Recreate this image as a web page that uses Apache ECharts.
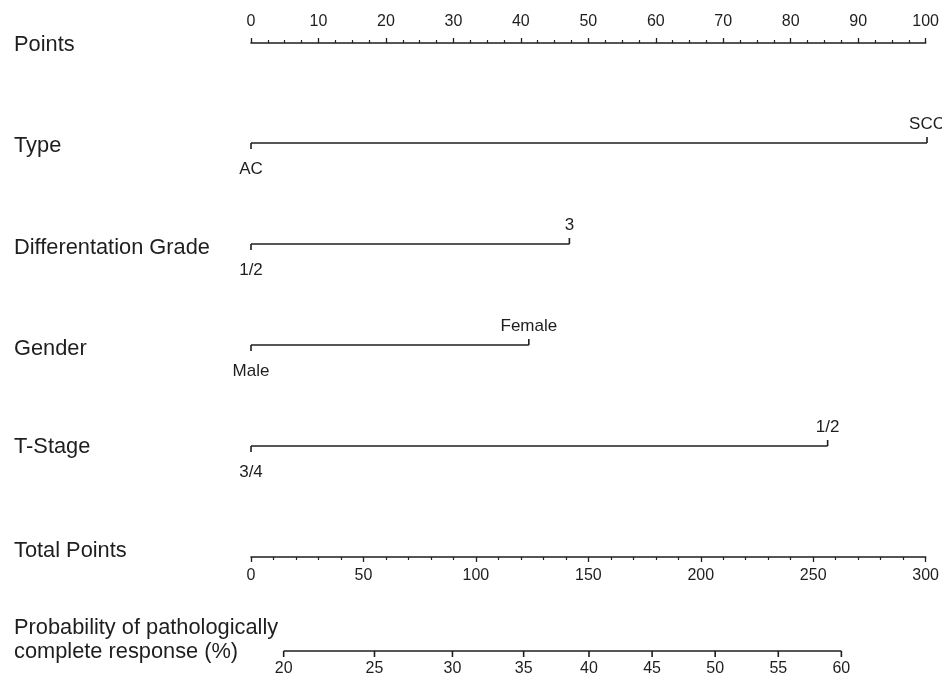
<!DOCTYPE html>
<html>
<head>
<meta charset="utf-8">
<script src="https://cdn.jsdelivr.net/npm/echarts@6/dist/echarts.min.js"></script>
<style>
  html, body { margin: 0; padding: 0; background: #fff; }
  #main { width: 942px; height: 679px; }
</style>
</head>
<body>
<div id="main"></div>
<script>
// nomogram values
var rowNames = ['Type', 'Differentation Grade', 'Gender', 'T-Stage'];
var lowLabels = ['AC', '1/2', 'Male', '3/4'];
var highLabels = ['SCC', '3', 'Female', '1/2'];
var highPoints = [100, 47.1, 41.1, 85.3];

var pointsMax = 100;
var totalMax = 300;

// probability ticks and where they sit on the total points scale
var probLabels = [20, 25, 30, 35, 40, 45, 50, 55, 60];
var probPoints = [14.5, 54.8, 89.4, 121, 150, 178, 206, 234, 262];

var rowTops = [143, 244, 345, 446];   // line position of each row (layout)
var ink = '#1e1e1e';
var font = '"Liberation Sans", Arial, sans-serif';

var chart = echarts.init(document.getElementById('main'));

var grids = [];
var xAxes = [];
var yAxes = [];
var series = [];

var axisBase = {
  axisLine: { onZero: false, lineStyle: { color: ink, width: 1.6 } },
  axisTick: { length: 5, lineStyle: { color: ink, width: 1.3 } },
  minorTick: { show: true, length: 3, lineStyle: { color: ink, width: 1.2 } },
  axisLabel: { color: ink, fontSize: 16, fontFamily: font, margin: 11 },
  splitLine: { show: false }
};

// Points axis (top)
grids.push({ left: 251, right: 15, top: 43, height: 20 });
xAxes.push(Object.assign({}, axisBase, {
  type: 'value', gridIndex: 0, position: 'top', min: 0, max: pointsMax, interval: 10,
  axisLabel: Object.assign({}, axisBase.axisLabel, { margin: 13 }),
  minorTick: Object.assign({}, axisBase.minorTick, { splitNumber: 4 })
}));
yAxes.push({ type: 'value', gridIndex: 0, show: false, min: -1, max: 1 });

// variable rows
function renderRow(i) {
  return function (params, api) {
    var lo = api.coord([0, 0]);
    var hi = api.coord([api.value(1), 0]);
    var st = { stroke: ink, lineWidth: 1.6 };
    var tf = { fill: ink, font: '17px ' + font, align: 'center', verticalAlign: 'middle' };
    return {
      type: 'group',
      children: [
        { type: 'line', shape: { x1: lo[0], y1: lo[1], x2: hi[0], y2: hi[1] }, style: st },
        { type: 'line', shape: { x1: lo[0], y1: lo[1], x2: lo[0], y2: lo[1] + 6 }, style: st },
        { type: 'line', shape: { x1: hi[0], y1: hi[1], x2: hi[0], y2: hi[1] - 6 }, style: st },
        { type: 'text', style: Object.assign({ text: lowLabels[i], x: lo[0], y: lo[1] + 26 }, tf) },
        { type: 'text', style: Object.assign({ text: highLabels[i], x: hi[0], y: hi[1] - 19 }, tf) }
      ]
    };
  };
}

rowNames.forEach(function (name, i) {
  var g = grids.length;
  grids.push({ left: 251, right: 15, top: rowTops[i] - 10, height: 20 });
  xAxes.push({ type: 'value', gridIndex: g, show: false, min: 0, max: pointsMax });
  yAxes.push({ type: 'value', gridIndex: g, show: false, min: -1, max: 1 });
  series.push({
    type: 'custom', name: name, xAxisIndex: g, yAxisIndex: g,
    renderItem: renderRow(i), silent: true,
    data: [[0, highPoints[i]]]
  });
});

// Total points axis
var gt = grids.length;
grids.push({ left: 251, right: 15, top: 537, height: 20 });
xAxes.push(Object.assign({}, axisBase, {
  type: 'value', gridIndex: gt, position: 'bottom', min: 0, max: totalMax, interval: 50,
  minorTick: Object.assign({}, axisBase.minorTick, { splitNumber: 5 })
}));
yAxes.push({ type: 'value', gridIndex: gt, show: false, min: -1, max: 1 });

// Probability axis, placed on the total points scale
var gp = grids.length;
grids.push({ left: 251, right: 15, top: 641, height: 20 });
xAxes.push({ type: 'value', gridIndex: gp, show: false, min: 0, max: totalMax });
yAxes.push({ type: 'value', gridIndex: gp, show: false, min: -1, max: 1 });
series.push({
  type: 'custom', name: 'prob', xAxisIndex: gp, yAxisIndex: gp, silent: true,
  data: probPoints.map(function (p, i) { return [p, probLabels[i]]; }),
  renderItem: function (params, api) {
    var p = api.coord([api.value(0), 0]);
    var st = { stroke: ink, lineWidth: 1.6 };
    var kids = [
      { type: 'line', shape: { x1: p[0], y1: p[1], x2: p[0], y2: p[1] + 6 }, style: st },
      { type: 'text', style: { text: String(api.value(1)), x: p[0], y: p[1] + 18, fill: ink,
        font: '16px ' + font, align: 'center', verticalAlign: 'middle' } }
    ];
    if (params.dataIndex === 0) {
      var end = api.coord([probPoints[probPoints.length - 1], 0]);
      kids.push({ type: 'line', shape: { x1: p[0], y1: p[1], x2: end[0], y2: end[1] }, style: st });
    }
    return { type: 'group', children: kids };
  }
});

// left hand names
var names = [
  { text: 'Points', y: 45 },
  { text: rowNames[0], y: 146 },
  { text: rowNames[1], y: 248 },
  { text: rowNames[2], y: 349 },
  { text: rowNames[3], y: 447 },
  { text: 'Total Points', y: 551 },
  { text: 'Probability of pathologically\ncomplete response (%)', y: 640 }
];

chart.setOption({
  animation: false,
  backgroundColor: '#fff',
  grid: grids,
  xAxis: xAxes,
  yAxis: yAxes,
  series: series,
  graphic: names.map(function (n) {
    return {
      type: 'text', x: 14, y: n.y, silent: true,
      style: { text: n.text, fill: ink, font: '21.8px ' + font, lineHeight: 24, verticalAlign: 'middle' }
    };
  })
});
</script>
</body>
</html>
